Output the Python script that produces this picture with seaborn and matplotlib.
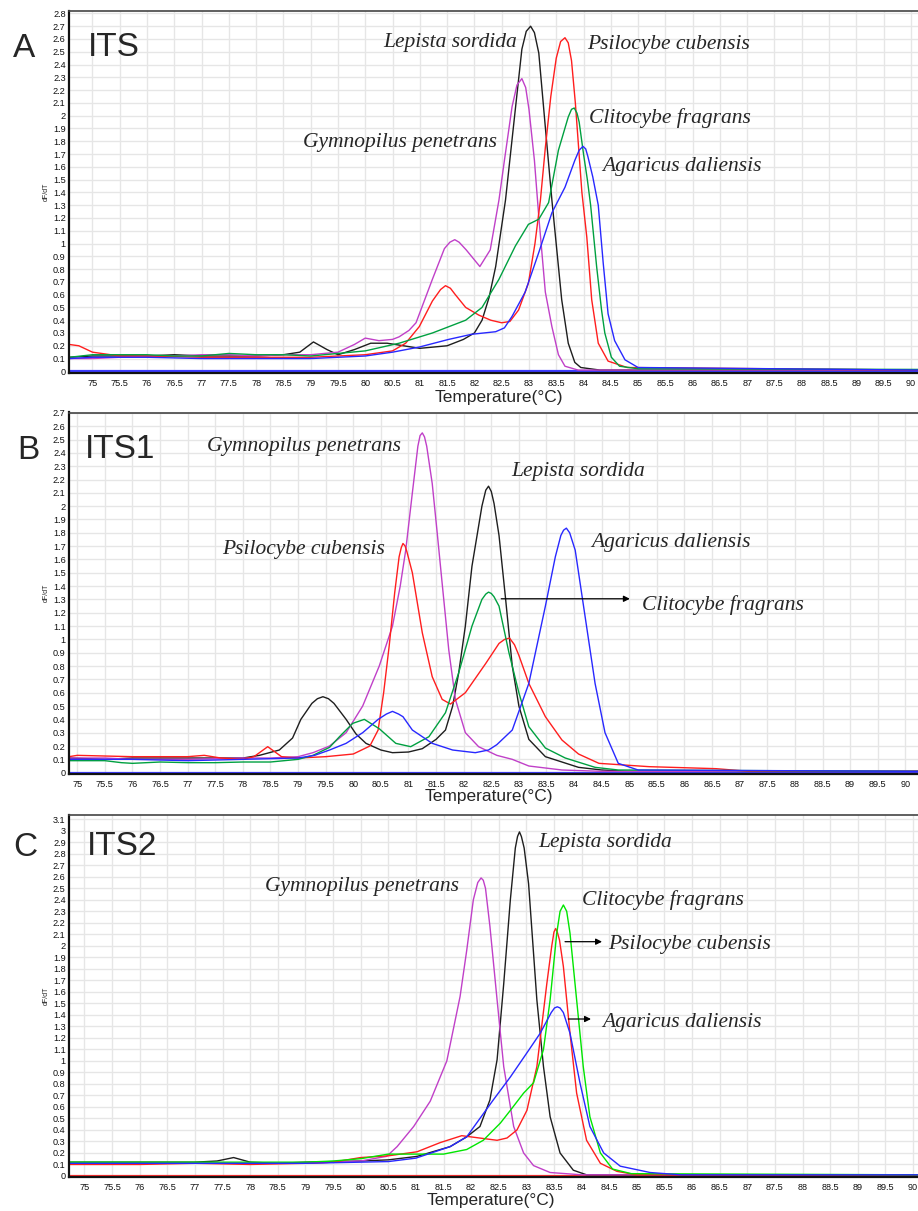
import numpy as np
import pandas as pd
import matplotlib
matplotlib.use("Agg")
import matplotlib.pyplot as plt
import seaborn as sns

# ---------------- data ----------------
SPECIES = ["Lepista sordida", "Gymnopilus penetrans", "Psilocybe cubensis",
           "Clitocybe fragrans", "Agaricus daliensis", "blank"]

# Panel A : ITS
A_LEP_T = [74.58, 75.0, 75.5, 76.0, 76.5, 77.0, 77.5, 78.0, 78.5, 78.8, 79.05, 79.3, 79.5, 79.8, 80.1, 80.4,
           80.7, 81.0, 81.5, 81.8, 82.0, 82.14, 82.27, 82.39, 82.57, 82.75, 82.87, 82.95, 83.03, 83.10, 83.18,
           83.30, 83.42, 83.48, 83.60, 83.72, 83.84, 83.95, 84.3, 90.13]
A_LEP_Y = [0.11, 0.12, 0.12, 0.12, 0.13, 0.12, 0.12, 0.12, 0.13, 0.15, 0.23, 0.17, 0.13, 0.17, 0.22, 0.22,
           0.20, 0.18, 0.20, 0.25, 0.30, 0.40, 0.58, 0.82, 1.34, 2.05, 2.52, 2.66, 2.70, 2.65, 2.49,
           1.91, 1.34, 1.08, 0.56, 0.22, 0.07, 0.03, 0.01, 0.01]
A_GYM_T = [74.58, 75.0, 75.5, 76.0, 76.5, 77.0, 77.5, 78.0, 78.5, 79.0, 79.5, 79.8, 80.0, 80.25, 80.5, 80.62,
           80.8, 80.93, 81.23, 81.45, 81.55, 81.64, 81.72, 81.85, 82.10, 82.29, 82.45, 82.55, 82.69, 82.78,
           82.87, 82.94, 83.0, 83.1, 83.18, 83.30, 83.42, 83.54, 83.66, 83.9, 90.13]
A_GYM_Y = [0.10, 0.10, 0.11, 0.12, 0.12, 0.13, 0.13, 0.12, 0.13, 0.13, 0.15, 0.21, 0.26, 0.24, 0.25, 0.27,
           0.32, 0.38, 0.72, 0.96, 1.01, 1.03, 1.01, 0.95, 0.82, 0.95, 1.34, 1.65, 2.07, 2.24,
           2.29, 2.22, 2.05, 1.65, 1.21, 0.62, 0.35, 0.13, 0.04, 0.01, 0.01]
A_PSI_T = [74.58, 74.75, 75.0, 75.5, 76.0, 77.0, 78.0, 79.0, 79.5, 80.0, 80.5, 80.74, 80.99, 81.23, 81.38,
           81.47, 81.56, 81.65, 81.84, 82.08, 82.3, 82.5, 82.65, 82.81, 82.99, 83.11, 83.21, 83.3, 83.4,
           83.5, 83.58, 83.66, 83.72, 83.78, 83.85, 83.97, 84.06, 84.15, 84.27, 84.45, 84.8, 90.13]
A_PSI_Y = [0.21, 0.20, 0.15, 0.12, 0.12, 0.11, 0.11, 0.11, 0.12, 0.13, 0.16, 0.22, 0.35, 0.55, 0.64,
           0.67, 0.65, 0.60, 0.50, 0.44, 0.40, 0.38, 0.39, 0.48, 0.69, 1.00, 1.34, 1.75, 2.15,
           2.45, 2.58, 2.61, 2.57, 2.43, 2.10, 1.40, 1.05, 0.56, 0.22, 0.08, 0.03, 0.01]
A_CLI_T = [74.58, 75.0, 75.5, 76.0, 76.5, 77.0, 77.5, 78.0, 78.5, 79.0, 79.5, 80.0, 80.62, 81.23, 81.84,
           82.14, 82.45, 82.75, 82.99, 83.18, 83.36, 83.54, 83.72, 83.78, 83.83, 83.88, 83.92, 84.0, 84.07,
           84.13, 84.24, 84.33, 84.39, 84.51, 84.66, 85.0, 90.13]
A_CLI_Y = [0.11, 0.13, 0.13, 0.13, 0.12, 0.12, 0.14, 0.13, 0.13, 0.12, 0.14, 0.16, 0.22, 0.30, 0.40,
           0.50, 0.72, 0.98, 1.15, 1.19, 1.32, 1.73, 1.99, 2.05, 2.06, 2.02, 1.95, 1.70, 1.50,
           1.30, 0.82, 0.48, 0.30, 0.11, 0.04, 0.02, 0.015]
A_AGA_T = [74.58, 75.0, 76.0, 77.0, 77.5, 78.0, 79.0, 80.0, 80.5, 80.99, 81.53, 81.95, 82.39, 82.55, 82.69,
           82.93, 83.18, 83.42, 83.66, 83.84, 83.92, 83.99, 84.04, 84.08, 84.17, 84.27, 84.36, 84.45, 84.57,
           84.76, 85.0, 90.13]
A_AGA_Y = [0.10, 0.11, 0.11, 0.10, 0.10, 0.10, 0.10, 0.12, 0.15, 0.19, 0.25, 0.29, 0.31, 0.34, 0.43,
           0.62, 0.93, 1.24, 1.44, 1.65, 1.73, 1.76, 1.74, 1.68, 1.52, 1.30, 0.85, 0.45, 0.24,
           0.09, 0.03, 0.01]
A_BLK_T = [74.58, 90.13]
A_BLK_Y = [0.0, 0.0]

# Panel B : ITS1
B_LEP_T = [74.85, 75.5, 76.0, 77.0, 77.5, 78.0, 78.3, 78.66, 78.9, 79.05, 79.25, 79.35, 79.45, 79.55, 79.65,
           79.87, 80.05, 80.23, 80.5, 80.71, 81.0, 81.25, 81.5, 81.67, 81.8, 81.91, 82.03, 82.15, 82.33,
           82.40, 82.45, 82.50, 82.55, 82.64, 82.76, 82.88, 83.0, 83.18, 83.48, 84.08, 84.5, 85.0, 90.23]
B_LEP_Y = [0.11, 0.10, 0.11, 0.11, 0.11, 0.11, 0.13, 0.17, 0.26, 0.40, 0.52, 0.555, 0.57, 0.555, 0.52,
           0.40, 0.29, 0.22, 0.17, 0.15, 0.155, 0.18, 0.25, 0.32, 0.50, 0.75, 1.10, 1.55, 2.00,
           2.12, 2.15, 2.11, 2.02, 1.78, 1.30, 0.80, 0.50, 0.25, 0.12, 0.04, 0.02, 0.01, 0.01]
B_GYM_T = [74.85, 75.5, 76.0, 77.0, 78.0, 78.5, 79.0, 79.27, 79.57, 79.87, 80.17, 80.47, 80.71, 80.85, 80.95,
           81.07, 81.17, 81.21, 81.25, 81.29, 81.33, 81.43, 81.52, 81.61, 81.73, 81.85, 82.03, 82.27, 82.6,
           82.88, 83.18, 83.78, 84.5, 90.23]
B_GYM_Y = [0.11, 0.11, 0.10, 0.10, 0.11, 0.11, 0.12, 0.15, 0.20, 0.30, 0.50, 0.80, 1.10, 1.40, 1.67,
           2.10, 2.45, 2.53, 2.55, 2.52, 2.45, 2.17, 1.80, 1.42, 0.92, 0.55, 0.30, 0.195, 0.13,
           0.10, 0.05, 0.02, 0.01, 0.01]
B_PSI_T = [74.85, 75.0, 76.0, 76.5, 77.0, 77.3, 77.6, 78.0, 78.2, 78.45, 78.7, 79.0, 79.5, 80.0, 80.3,
           80.45, 80.55, 80.65, 80.75, 80.83, 80.87, 80.90, 80.94, 80.97, 81.07, 81.25, 81.43, 81.61, 81.76,
           82.03, 82.40, 82.64, 82.74, 82.83, 82.92, 83.0, 83.18, 83.48, 83.78, 84.08, 84.45, 85.36, 86.57,
           87.17, 90.23]
B_PSI_Y = [0.12, 0.13, 0.12, 0.12, 0.12, 0.13, 0.11, 0.10, 0.12, 0.195, 0.12, 0.11, 0.12, 0.14, 0.20,
           0.32, 0.60, 0.95, 1.35, 1.62, 1.69, 1.72, 1.70, 1.66, 1.50, 1.05, 0.72, 0.55, 0.515,
           0.60, 0.82, 0.97, 1.00, 1.01, 0.96, 0.88, 0.67, 0.42, 0.245, 0.14, 0.07, 0.045, 0.03,
           0.01, 0.01]
B_CLI_T = [74.85, 75.5, 75.8, 76.0, 76.5, 77.0, 77.5, 78.0, 78.5, 79.0, 79.27, 79.57, 79.75, 79.99, 80.2,
           80.47, 80.77, 81.04, 81.37, 81.67, 81.91, 82.15, 82.33, 82.40, 82.45, 82.50, 82.55, 82.64, 82.82,
           83.0, 83.18, 83.48, 83.84, 84.38, 84.8, 90.23]
B_CLI_Y = [0.09, 0.09, 0.075, 0.07, 0.08, 0.075, 0.075, 0.08, 0.08, 0.10, 0.13, 0.19, 0.27, 0.37, 0.40,
           0.33, 0.22, 0.195, 0.27, 0.45, 0.75, 1.10, 1.30, 1.34, 1.355, 1.345, 1.32, 1.25, 0.90,
           0.60, 0.345, 0.185, 0.11, 0.04, 0.02, 0.01]
B_AGA_T = [74.85, 75.5, 76.0, 77.0, 78.0, 79.0, 79.3, 79.57, 79.87, 80.17, 80.45, 80.6, 80.71, 80.82, 80.9,
           81.07, 81.43, 81.8, 82.21, 82.45, 82.6, 82.88, 83.18, 83.48, 83.66, 83.76, 83.81, 83.86, 83.92,
           84.02, 84.20, 84.38, 84.56, 84.80, 85.16, 90.23]
B_AGA_Y = [0.10, 0.10, 0.10, 0.09, 0.10, 0.11, 0.13, 0.17, 0.22, 0.30, 0.40, 0.44, 0.46, 0.44, 0.42,
           0.32, 0.22, 0.17, 0.15, 0.17, 0.21, 0.32, 0.67, 1.25, 1.62, 1.78, 1.82, 1.835, 1.80,
           1.67, 1.17, 0.67, 0.30, 0.07, 0.02, 0.01]
B_BLK_T = [74.85, 90.23]
B_BLK_Y = [0.0, 0.0]

# Panel C : ITS2
C_LEP_T = [74.72, 75.5, 76.0, 77.0, 77.4, 77.7, 78.0, 78.5, 79.0, 80.0, 80.5, 81.02, 81.62, 81.92, 82.16,
           82.34, 82.47, 82.59, 82.71, 82.80, 82.84, 82.875, 82.91, 82.96, 83.04, 83.19, 83.31, 83.43, 83.61,
           83.85, 84.09, 90.09]
C_LEP_Y = [0.12, 0.12, 0.12, 0.12, 0.13, 0.16, 0.12, 0.11, 0.12, 0.13, 0.14, 0.17, 0.255, 0.34, 0.43,
           0.66, 1.01, 1.67, 2.40, 2.85, 2.95, 2.99, 2.95, 2.85, 2.54, 1.53, 0.95, 0.515, 0.20,
           0.05, 0.01, 0.01]
C_GYM_T = [74.72, 75.5, 76.0, 77.0, 78.0, 79.0, 79.5, 80.0, 80.23, 80.47, 80.66, 80.96, 81.26, 81.56, 81.80,
           81.92, 82.04, 82.12, 82.18, 82.22, 82.26, 82.34, 82.47, 82.59, 82.77, 82.95, 83.13, 83.43, 84.0,
           90.09]
C_GYM_Y = [0.11, 0.11, 0.11, 0.11, 0.11, 0.11, 0.12, 0.13, 0.15, 0.17, 0.255, 0.43, 0.65, 1.00, 1.56,
           1.96, 2.40, 2.55, 2.59, 2.57, 2.50, 2.17, 1.53, 0.95, 0.43, 0.20, 0.09, 0.03, 0.01,
           0.01]
C_PSI_T = [74.72, 75.5, 76.0, 77.0, 78.0, 79.0, 79.5, 80.0, 80.5, 81.02, 81.44, 81.83, 82.15, 82.47, 82.65,
           82.83, 83.01, 83.19, 83.37, 83.46, 83.50, 83.53, 83.56, 83.60, 83.67, 83.79, 83.91, 84.09, 84.34,
           84.64, 85.0, 90.09]
C_PSI_Y = [0.10, 0.10, 0.10, 0.11, 0.10, 0.11, 0.12, 0.16, 0.175, 0.21, 0.29, 0.35, 0.33, 0.31, 0.33,
           0.40, 0.57, 0.95, 1.67, 2.00, 2.12, 2.15, 2.12, 2.05, 1.82, 1.24, 0.72, 0.31, 0.11,
           0.04, 0.01, 0.01]
C_CLI_T = [74.72, 75.5, 76.0, 77.0, 78.0, 79.0, 79.5, 80.0, 80.5, 81.0, 81.5, 81.92, 82.22, 82.53, 82.71,
           82.95, 83.13, 83.31, 83.43, 83.55, 83.61, 83.67, 83.73, 83.79, 83.91, 84.03, 84.15, 84.34, 84.56,
           84.9, 90.09]
C_CLI_Y = [0.12, 0.12, 0.12, 0.12, 0.12, 0.12, 0.13, 0.15, 0.19, 0.19, 0.19, 0.23, 0.31, 0.46, 0.57,
           0.72, 0.81, 1.10, 1.53, 2.11, 2.30, 2.355, 2.30, 2.11, 1.53, 0.95, 0.515, 0.20, 0.06,
           0.02, 0.01]
C_AGA_T = [74.72, 75.5, 76.0, 77.0, 78.0, 79.0, 80.0, 80.5, 81.0, 81.62, 81.92, 82.16, 82.40, 82.71, 83.01,
           83.25, 83.45, 83.51, 83.56, 83.61, 83.67, 83.79, 83.97, 84.15, 84.40, 84.70, 85.24, 85.8, 90.09]
C_AGA_Y = [0.11, 0.11, 0.11, 0.11, 0.11, 0.11, 0.12, 0.125, 0.155, 0.255, 0.34, 0.50, 0.66, 0.86, 1.07,
           1.24, 1.42, 1.46, 1.47, 1.46, 1.42, 1.24, 0.81, 0.43, 0.20, 0.085, 0.03, 0.01, 0.01]
C_BLK_T = [74.72, 90.09]
C_BLK_Y = [0.0, 0.0]

PANEL_LETTERS = ["A", "B", "C"]
PANEL_TITLES = ["ITS", "ITS1", "ITS2"]
X_TICKS = np.arange(75.0, 90.01, 0.5)
Y_MAX_TICK = [2.8, 2.7, 3.1]

# ---------------- styling ----------------
sns.set_style("white")
plt.rcParams["font.family"] = ["Liberation Sans", "DejaVu Sans"]

W, H = 918, 1211
fig = plt.figure(figsize=(W / 100, H / 100), dpi=100)


def fx(px):
    return px / W


def fy(py):
    return 1 - py / H


def build(lists):
    frames = []
    for name, (t, y) in zip(SPECIES, lists):
        frames.append(pd.DataFrame({"Temperature": t, "dFdT": y, "species": name}))
    return pd.concat(frames, ignore_index=True)


panels = [
    dict(box=(69, 11, 918, 373), xlim=(74.57, 90.13), ylim=(-0.013, 2.819),
         data=build([(A_LEP_T, A_LEP_Y), (A_GYM_T, A_GYM_Y), (A_PSI_T, A_PSI_Y),
                     (A_CLI_T, A_CLI_Y), (A_AGA_T, A_AGA_Y), (A_BLK_T, A_BLK_Y)]),
         green="#00a040", blank="#3c3cff"),
    dict(box=(69, 412.5, 918, 774), xlim=(74.85, 90.23), ylim=(-0.01, 2.703),
         data=build([(B_LEP_T, B_LEP_Y), (B_GYM_T, B_GYM_Y), (B_PSI_T, B_PSI_Y),
                     (B_CLI_T, B_CLI_Y), (B_AGA_T, B_AGA_Y), (B_BLK_T, B_BLK_Y)]),
         green="#00a040", blank="#3c3cff"),
    dict(box=(69, 815, 918, 1177), xlim=(74.72, 90.09), ylim=(-0.009, 3.137),
         data=build([(C_LEP_T, C_LEP_Y), (C_GYM_T, C_GYM_Y), (C_PSI_T, C_PSI_Y),
                     (C_CLI_T, C_CLI_Y), (C_AGA_T, C_AGA_Y), (C_BLK_T, C_BLK_Y)]),
         green="#00e600", blank="#ff3030"),
]

axes = []
for i, p in enumerate(panels):
    l, t, r, b = p["box"]
    ax = fig.add_axes([fx(l), fy(b), (r - l) / W, (b - t) / H])
    axes.append(ax)
    pal = {"Lepista sordida": "#1e1e1e", "Gymnopilus penetrans": "#c040c8",
           "Psilocybe cubensis": "#ff1e1e", "Clitocybe fragrans": p["green"],
           "Agaricus daliensis": "#2828ff", "blank": p["blank"]}
    df = p["data"]
    sns.lineplot(data=df[df.species == "blank"], x="Temperature", y="dFdT", color=p["blank"],
                 linewidth=1.6, estimator=None, sort=False, ax=ax)
    sns.lineplot(data=df[df.species != "blank"], x="Temperature", y="dFdT", hue="species",
                 hue_order=SPECIES[:5], palette=pal, linewidth=1.0, estimator=None,
                 sort=False, legend=False, ax=ax)
    ax.set_xlim(*p["xlim"])
    ax.set_ylim(*p["ylim"])
    ax.set_xticks(X_TICKS)
    ax.set_xticklabels([f"{v:g}" for v in X_TICKS])
    yt = np.round(np.arange(0, Y_MAX_TICK[i] + 0.001, 0.1), 1)
    ax.set_yticks(yt)
    ax.set_yticklabels([f"{v:g}" for v in yt])
    ax.grid(True, color="#e6e6e6", linewidth=1.0)
    ax.set_axisbelow(True)
    ax.tick_params(axis="y", length=1.8, width=0.8, pad=0.6, labelsize=6.6, colors="#111111")
    ax.tick_params(axis="x", length=2.0, width=0.8, pad=2.0, labelsize=6.6, colors="#111111")
    for s in ["left", "bottom"]:
        ax.spines[s].set_color("#111111")
        ax.spines[s].set_linewidth(1.6)
    ax.spines["top"].set_color("#444444")
    ax.spines["top"].set_linewidth(1.2)
    ax.spines["right"].set_visible(False)
    ax.set_xlabel("")
    ax.set_ylabel("dF/dT", fontsize=5, labelpad=2)

# panel letters and titles
for letter, title, (lx, tx, base) in zip(PANEL_LETTERS, PANEL_TITLES,
                                          [(13, 88, 57), (17, 85, 459), (13, 87, 856)]):
    fig.text(fx(lx), fy(base), letter, fontsize=24, va="baseline", ha="left")
    fig.text(fx(tx), fy(base - 1), title, fontsize=24, va="baseline", ha="left")

# x axis titles
for (cx, cy) in [(499, 397), (489, 796), (491, 1200)]:
    fig.text(fx(cx), fy(cy), "Temperature(°C)", fontsize=12.5, ha="center", va="center")

# species labels
sp_kw = dict(family=["Liberation Serif", "DejaVu Serif"], style="italic", fontsize=15.5,
             ha="left", va="center")
labels = [
    ("Lepista sordida", 383, 43), ("Psilocybe cubensis", 587, 45), ("Clitocybe fragrans", 589, 118),
    ("Agaricus daliensis", 602, 167), ("Gymnopilus penetrans", 303, 142),
    ("Gymnopilus penetrans", 207, 447), ("Psilocybe cubensis", 222, 549), ("Lepista sordida", 511, 472),
    ("Agaricus daliensis", 591, 542), ("Clitocybe fragrans", 642, 605),
    ("Lepista sordida", 538, 843), ("Gymnopilus penetrans", 265, 887), ("Clitocybe fragrans", 582, 900),
    ("Psilocybe cubensis", 608, 945), ("Agaricus daliensis", 602, 1023),
]
for s, px, py in labels:
    fig.text(fx(px), fy(py), s, **sp_kw)

# arrows
arrow_kw = dict(arrowstyle="-|>", color="black", lw=0.9, mutation_scale=9, shrinkA=0, shrinkB=0)
axes[1].annotate("", xy=(85.01, 1.305), xytext=(82.68, 1.305), arrowprops=arrow_kw)
axes[2].annotate("", xy=(84.37, 2.036), xytext=(83.70, 2.036), arrowprops=arrow_kw)
axes[2].annotate("", xy=(84.17, 1.364), xytext=(83.76, 1.364), arrowprops=arrow_kw)

fig.savefig("out.png", dpi=100)
